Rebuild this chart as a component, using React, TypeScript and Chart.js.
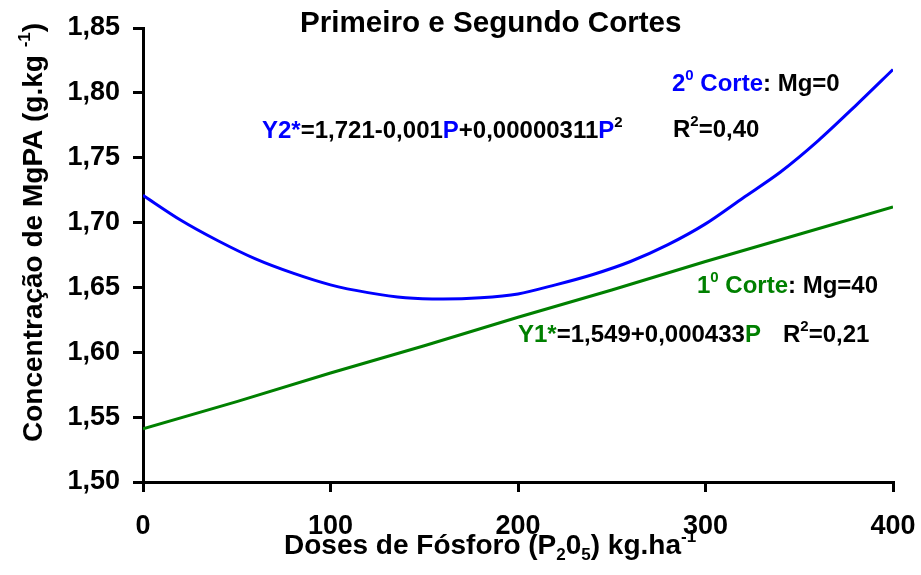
import React, { useEffect, useRef } from "react";
import { Chart, registerables } from "chart.js";

Chart.register(...registerables);

// Data
const dosesCorte2 = [0, 20, 40, 60, 80, 100, 120, 140, 160, 180, 200, 220, 240, 260, 280, 300, 320, 340, 360, 380, 400];
const mgCorte2 = [1.721, 1.702, 1.686, 1.672, 1.661, 1.652, 1.646, 1.642, 1.641, 1.642, 1.645, 1.652, 1.66, 1.67, 1.683, 1.699, 1.719, 1.739, 1.763, 1.79, 1.818];
const dosesCorte1 = [0, 50, 100, 150, 200, 250, 300, 350, 400];
const mgCorte1 = [1.541, 1.562, 1.584, 1.605, 1.627, 1.648, 1.67, 1.691, 1.712];

const BLUE = "#0000ff";
const GREEN = "#008000";
const FONT = '"Liberation Sans", Arial, Helvetica, sans-serif';

type Run = { t: string; c?: string; k?: "sup" | "sub" };

function drawRich(ctx: CanvasRenderingContext2D, x: number, y: number, runs: Run[], size: number) {
  let cx = x;
  ctx.textAlign = "left";
  ctx.textBaseline = "alphabetic";
  for (const r of runs) {
    const s = r.k ? Math.round(size * 0.62) : size;
    const dy = r.k === "sup" ? -size * 0.44 : r.k === "sub" ? size * 0.2 : 0;
    ctx.font = `bold ${s}px ${FONT}`;
    ctx.fillStyle = r.c || "#000";
    ctx.fillText(r.t, cx, y + dy);
    cx += ctx.measureText(r.t).width;
  }
}

const textPlugin = {
  id: "richText",
  afterDraw(chart: any) {
    const ctx: CanvasRenderingContext2D = chart.ctx;
    ctx.save();
    drawRich(ctx, 300, 32, [{ t: "Primeiro e Segundo Cortes" }], 29.6);
    drawRich(ctx, 672, 91, [
      { t: "2", c: BLUE },
      { t: "0", c: BLUE, k: "sup" },
      { t: " Corte", c: BLUE },
      { t: ": Mg=0" },
    ], 24);
    drawRich(ctx, 262, 138, [
      { t: "Y2*", c: BLUE },
      { t: "=1,721-0,001" },
      { t: "P", c: BLUE },
      { t: "+0,00000311" },
      { t: "P", c: BLUE },
      { t: "2", k: "sup" },
    ], 24);
    drawRich(ctx, 673, 137, [{ t: "R" }, { t: "2", k: "sup" }, { t: "=0,40" }], 24);
    drawRich(ctx, 697, 293, [
      { t: "1", c: GREEN },
      { t: "0", c: GREEN, k: "sup" },
      { t: " Corte", c: GREEN },
      { t: ": Mg=40" },
    ], 24);
    drawRich(ctx, 518, 342, [
      { t: "Y1*", c: GREEN },
      { t: "=1,549+0,000433" },
      { t: "P", c: GREEN },
    ], 24);
    drawRich(ctx, 783, 342, [{ t: "R" }, { t: "2", k: "sup" }, { t: "=0,21" }], 24);
    drawRich(ctx, 284, 554, [
      { t: "Doses de Fósforo (P" },
      { t: "2", k: "sub" },
      { t: "0" },
      { t: "5", k: "sub" },
      { t: ") kg.ha" },
      { t: "-1", k: "sup" },
    ], 28);
    ctx.save();
    ctx.translate(42, 442);
    ctx.rotate(-Math.PI / 2);
    drawRich(ctx, 0, 0, [
      { t: "Concentração de MgPA (g.kg " },
      { t: "-1", k: "sup" },
      { t: ")" },
    ], 28);
    ctx.restore();
    ctx.restore();
  },
};

export default function App() {
  const ref = useRef<HTMLCanvasElement | null>(null);
  useEffect(() => {
    document.body.style.margin = "0";
    const canvas = ref.current!;
    const chart = new Chart(canvas, {
      type: "line",
      data: {
        datasets: [
          {
            label: "2º Corte",
            data: dosesCorte2.map((x, i) => ({ x, y: mgCorte2[i] })),
            borderColor: BLUE,
            borderWidth: 3,
            pointRadius: 0,
            tension: 0.3,
            fill: false,
          },
          {
            label: "1º Corte",
            data: dosesCorte1.map((x, i) => ({ x, y: mgCorte1[i] })),
            borderColor: GREEN,
            borderWidth: 3,
            pointRadius: 0,
            tension: 0,
            fill: false,
          },
        ],
      },
      options: {
        animation: false,
        responsive: false,
        devicePixelRatio: 1,
        layout: { padding: { top: 28, right: 28, left: 0, bottom: 0 } },
        plugins: { legend: { display: false }, title: { display: false }, tooltip: { enabled: false } },
        scales: {
          x: {
            type: "linear",
            min: 0,
            max: 400,
            afterFit: (s: any) => {
              s.height = 93;
              s.paddingLeft = 0;
              s.paddingRight = 0;
            },
            ticks: {
              stepSize: 100,
              color: "#000",
              padding: 18,
              maxRotation: 0,
              font: { family: FONT, size: 27, weight: "bold" },
            },
            grid: { drawOnChartArea: false, drawTicks: true, tickLength: 10, color: "#000", lineWidth: 3 },
            border: { display: true, color: "#000", width: 3 },
          },
          y: {
            type: "linear",
            min: 1.5,
            max: 1.85,
            afterFit: (s: any) => {
              s.width = 143;
              s.paddingTop = 0;
              s.paddingBottom = 0;
            },
            ticks: {
              stepSize: 0.05,
              color: "#000",
              padding: 13,
              font: { family: FONT, size: 27, weight: "bold" },
              callback: (v: any) => Number(v).toFixed(2).replace(".", ","),
            },
            grid: { drawOnChartArea: false, drawTicks: true, tickLength: 10, color: "#000", lineWidth: 3 },
            border: { display: true, color: "#000", width: 3 },
          },
        },
      },
      plugins: [textPlugin],
    });
    return () => chart.destroy();
  }, []);
  return (
    <div style={{ width: 921, height: 575, background: "#fff" }}>
      <canvas ref={ref} width={921} height={575} style={{ display: "block" }} />
    </div>
  );
}
